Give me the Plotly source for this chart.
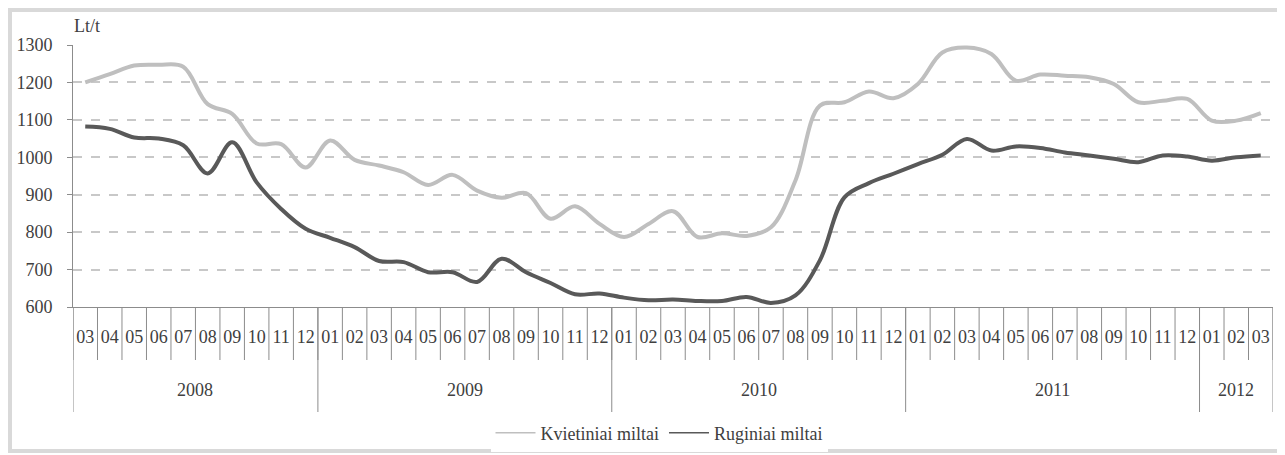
import plotly.graph_objects as go

years = ["2008"] * 10 + ["2009"] * 12 + ["2010"] * 12 + ["2011"] * 12 + ["2012"] * 3
months = (["03", "04", "05", "06", "07", "08", "09", "10", "11", "12"]
          + ["01", "02", "03", "04", "05", "06", "07", "08", "09", "10", "11", "12"] * 3
          + ["01", "02", "03"])
year_labels = ["2008", "2009", "2010", "2011", "2012"]

kvietiniai = [1200, 1222, 1245, 1247, 1242, 1142, 1116, 1037, 1035, 973,
              1045, 993, 978, 960, 926, 953, 911, 892, 904, 836, 869, 822,
              787, 822, 856, 787, 797, 790, 813, 938, 1138, 1147, 1176, 1158,
              1196, 1280, 1293, 1276, 1205, 1221, 1218, 1214, 1196, 1147, 1151, 1156,
              1098, 1098, 1118]

ruginiai = [1082, 1076, 1053, 1050, 1032, 957, 1040, 933, 862, 809,
            785, 760, 723, 720, 693, 693, 667, 729, 693, 664, 634, 636,
            625, 618, 620, 616, 616, 627, 611, 631, 725, 893, 931, 956,
            982, 1007, 1049, 1018, 1029, 1025, 1013, 1005, 996, 987, 1005, 1002,
            991, 1000, 1005]

series_names = ["Kvietiniai miltai", "Ruginiai miltai"]
series_colors = ["#bfbfbf", "#595959"]

cats = [f"{y}-{m}" for y, m in zip(years, months)]
n = len(cats)

serif = "Liberation Serif, Times New Roman, serif"
txt = "#404040"
axc = "#8c8c8c"
fs = 18

fig = go.Figure()
for vals, name, col in zip([kvietiniai, ruginiai], series_names, series_colors):
    fig.add_trace(go.Scatter(x=cats, y=vals, mode="lines", name=name, showlegend=False,
                             line=dict(color=col, width=4, shape="spline", smoothing=1)))
# legend entries with thin line samples (as in the reference)
for name, col in zip(series_names, series_colors):
    fig.add_trace(go.Scatter(x=[None], y=[None], mode="lines", name=name,
                             line=dict(color=col, width=1.5)))

# the page shows the figure offset by the default 8px body margin
OFF = 8
W, H = 1285 - OFF, 455 - OFF
PL, PR, PT, PB = 73, 1273, 45, 307   # plot area in screen pixels
L, T = PL - OFF, PT - OFF
pw, ph = PR - PL, PB - PT
R, B = W - L - pw, H - T - ph

def px(x):
    return (x - PL) / pw

def py(y):
    return (PB - y) / ph

shapes = [dict(type="rect", xref="paper", yref="paper",
               x0=px(10), x1=px(1282), y0=py(451), y1=py(10),
               line=dict(color="#d9d9d9", width=4), fillcolor="rgba(0,0,0,0)",
               layer="below")]
# month boundary ticks
for i in range(n + 1):
    shapes.append(dict(type="line", xref="x", yref="paper", x0=i - 0.5, x1=i - 0.5,
                       y0=0, y1=py(360), line=dict(color=axc, width=1)))
annotations = [dict(text="Lt/t", xref="paper", yref="paper", x=px(72), y=py(26),
                    xanchor="left", yanchor="middle", showarrow=False,
                    font=dict(family=serif, size=fs, color=txt))]
start = 0
for yl in year_labels:
    cnt = years.count(yl)
    end = start + cnt
    annotations.append(dict(text=yl, xref="x", yref="paper", x=(start + end - 1) / 2,
                            y=py(390), xanchor="center", yanchor="middle", showarrow=False,
                            font=dict(family=serif, size=fs, color=txt)))
    shapes.append(dict(type="line", xref="x", yref="paper", x0=start - 0.5, x1=start - 0.5,
                       y0=0, y1=py(412), line=dict(color=axc, width=1)))
    start = end
shapes.append(dict(type="line", xref="x", yref="paper", x0=n - 0.5, x1=n - 0.5,
                   y0=0, y1=py(412), line=dict(color=axc, width=1)))

fig.update_layout(
    width=W, height=H,
    margin=dict(l=L, r=R, t=T, b=B, autoexpand=False),
    paper_bgcolor="white", plot_bgcolor="white",
    font=dict(family=serif, size=fs, color=txt),
    showlegend=True,
    legend=dict(orientation="h", x=px(659), xanchor="center", y=py(433), yanchor="middle",
                font=dict(family=serif, size=fs, color=txt), itemwidth=40,
                tracegroupgap=0),
    xaxis=dict(type="category", categoryorder="array", categoryarray=cats,
               range=[-0.5, n - 0.5], automargin=False,
               tickvals=cats, ticktext=months,
               showline=True, linecolor=axc, linewidth=1,
               ticks="outside", ticklen=13, tickcolor="rgba(0,0,0,0)",
               showgrid=False, tickfont=dict(family=serif, size=fs, color=txt)),
    yaxis=dict(range=[600, 1300], dtick=100, showline=True, linecolor=axc,
               automargin=False,
               ticks="outside", ticklen=5, tickcolor=axc, ticklabelstandoff=11,
               showgrid=True, gridcolor="#c8c8c8", griddash="dash", gridwidth=1.5,
               zeroline=False, tickfont=dict(family=serif, size=fs, color=txt)),
    shapes=shapes,
    annotations=annotations,
)

fig.write_html("out.html")
